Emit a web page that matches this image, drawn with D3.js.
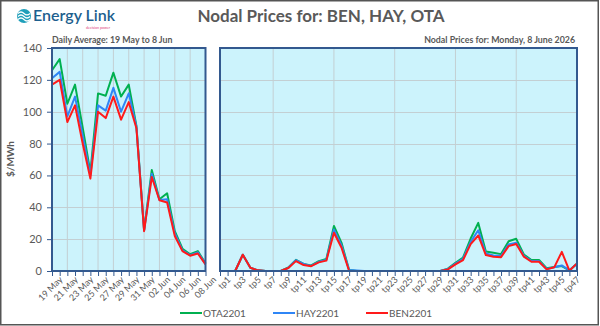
<!DOCTYPE html>
<html>
<head>
<meta charset="utf-8">
<script src="https://cdn.jsdelivr.net/npm/d3@7"></script>
<style>
  body { margin: 0; background: #fff; }
  svg { display: block; font-family: Lato, "Open Sans", sans-serif; }
</style>
</head>
<body>
<div id="chart"></div>
<script>
// daily averages, 19 May to 8 Jun
var days = ["19 May", "20 May", "21 May", "22 May", "23 May", "24 May", "25 May", "26 May",
    "27 May", "28 May", "29 May", "30 May", "31 May", "01 Jun", "02 Jun", "03 Jun",
    "04 Jun", "05 Jun", "06 Jun", "07 Jun", "08 Jun"];
var otaDaily = [126, 133, 105, 117, 90, 62, 111.5, 110, 124.5, 109.5, 117, 91, 25.7, 63.4, 45, 48.8, 25, 14, 10.5, 12.5, 4.8];
var hayDaily = [121, 125, 97, 109.5, 85, 60, 104, 100.7, 115, 100, 111.5, 90.5, 25.5, 61, 44.6, 45, 23.6, 13, 10, 11.7, 4.5];
var benDaily = [117, 120, 93.5, 104, 80, 58, 100, 96, 109.5, 95, 106, 89.6, 25, 59, 44.4, 43, 22, 12.5, 9.6, 11, 4.2];

// trading periods, Monday 8 June
var tps = d3.range(1, 49).map(function (d) { return "tp" + d; });
var otaTp = [0, 0, 0, 10.2, 2, 0.4, 0, 0, 0, 2.2, 7, 4.4, 3.5, 6.2, 7.5, 28.3, 17.7, 0.6, 0, 0,
    0, 0, 0, 0, 0, 0, 0, 0, 0, 0, 1.5, 5.2, 8.5, 20.4, 30.2, 12.3, 11.5, 10.6, 18.7, 20.2,
    10.4, 6.9, 6.9, 1.7, 2.5, 3.1, 0.4, 4.6];
var hayTp = [0, 0, 0, 10.2, 2, 0.4, 0, 0, 0, 2, 6.8, 4.4, 3.2, 5.8, 7, 26, 16, 0.6, 0.3, 0,
    0, 0, 0, 0, 0, 0, 0, 0, 0, 0, 1.2, 4.7, 7.7, 18.3, 25.6, 11, 9.8, 9.4, 16.7, 17.7,
    9.6, 6.2, 6.2, 1.3, 2.4, 3.5, 0.4, 4.6];
var benTp = [0, 0, 0, 10.2, 2, 0.4, 0, 0, 0, 1.9, 6.2, 3.7, 3, 5.4, 6.5, 24, 14.6, 0, 0, 0,
    0, 0, 0, 0, 0, 0, 0, 0, 0, 0, 1, 4.2, 6.9, 16.9, 22.3, 10, 9, 8.7, 15.6, 16.9,
    9, 5.8, 5.8, 1, 2.3, 12, 0.2, 4.8];

var yTicks = [0, 20, 40, 60, 80, 100, 120, 140];

var seriesNames = ["OTA2201", "HAY2201", "BEN2201"];
var seriesColors = ["#00b050", "#2f86f6", "#ff1a1a"];

function init() {
    var w = 600;
    var h = 326;
    var top = 48, bottom = 271;

    var svg = d3.select("#chart")
        .append("svg")
        .attr("width", w)
        .attr("height", h);

    // outer frame
    svg.append("rect")
        .attr("x", 0.75).attr("y", 0.75)
        .attr("width", w - 2.5).attr("height", h - 2)
        .attr("fill", "#fff")
        .attr("stroke", "#555")
        .attr("stroke-width", 1.5);

    var y = d3.scaleLinear().domain([0, 140]).range([bottom, top]);
    var xL = d3.scalePoint().domain(days).range([52, 205.5]);
    var xR = d3.scalePoint().domain(tps).range([220, 577]);

    // panel backgrounds
    [[52, 205.5], [220, 577]].forEach(function (p) {
        svg.append("rect")
            .attr("x", p[0]).attr("y", top)
            .attr("width", p[1] - p[0]).attr("height", bottom - top)
            .attr("fill", "#ccf3fc");
    });

    // horizontal gridlines
    var grid = svg.append("g").attr("stroke", "#c3cfd3").attr("stroke-width", 1);
    [[52, 205.5], [220, 577]].forEach(function (p) {
        grid.selectAll(null)
            .data(yTicks.slice(1, -1))
            .enter()
            .append("line")
            .attr("x1", p[0]).attr("x2", p[1])
            .attr("y1", function (d) { return Math.round(y(d)) + 0.5; })
            .attr("y2", function (d) { return Math.round(y(d)) + 0.5; });
    });

    // vertical gridlines
    grid.selectAll(null)
        .data(days.filter(function (d, i) { return i % 2 === 0 && i > 0 && i < days.length - 1; }))
        .enter()
        .append("line")
        .attr("x1", function (d) { return xL(d); })
        .attr("x2", function (d) { return xL(d); })
        .attr("y1", top).attr("y2", bottom);
    grid.selectAll(null)
        .data(tps.filter(function (d, i) { return i % 8 === 7 && i < tps.length - 1; }))
        .enter()
        .append("line")
        .attr("x1", function (d) { return xR(d); })
        .attr("x2", function (d) { return xR(d); })
        .attr("y1", top).attr("y2", bottom);

    // lines
    var dailyData = [otaDaily, hayDaily, benDaily];
    var tpData = [otaTp, hayTp, benTp];

    var lineL = d3.line()
        .x(function (d, i) { return xL(days[i]); })
        .y(function (d) { return y(d); });
    var lineR = d3.line()
        .x(function (d, i) { return xR(tps[i]); })
        .y(function (d) { return y(d); });

    dailyData.forEach(function (s, k) {
        svg.append("path")
            .attr("d", lineL(s))
            .attr("fill", "none")
            .attr("stroke", seriesColors[k])
            .attr("stroke-width", 2)
            .attr("stroke-linejoin", "round");
    });
    tpData.forEach(function (s, k) {
        svg.append("path")
            .attr("d", lineR(s))
            .attr("fill", "none")
            .attr("stroke", seriesColors[k])
            .attr("stroke-width", 2)
            .attr("stroke-linejoin", "round");
    });

    // panel borders
    [[52, 205.5], [220, 577]].forEach(function (p) {
        svg.append("rect")
            .attr("x", p[0]).attr("y", top)
            .attr("width", p[1] - p[0]).attr("height", bottom - top)
            .attr("fill", "none")
            .attr("stroke", "#33598f")
            .attr("stroke-width", 2);
    });

    // y axis
    var yAxis = svg.append("g")
        .attr("transform", "translate(51,0)")
        .call(d3.axisLeft(y).tickValues(yTicks).tickSize(4).tickPadding(5));
    yAxis.select(".domain").remove();
    yAxis.selectAll("line").attr("stroke", "#33598f");
    yAxis.selectAll("text")
        .attr("fill", "#595959")
        .style("font-size", "11px")
        .style("font-family", "Lato, sans-serif");

    svg.append("text")
        .attr("transform", "translate(14,159) rotate(-90)")
        .attr("text-anchor", "middle")
        .attr("fill", "#595959")
        .style("font-size", "10px")
        .style("font-weight", "bold")
        .text("$/MWh");

    // x axes
    function styleX(g) {
        g.select(".domain").remove();
        g.selectAll("line").attr("stroke", "#33598f");
        g.selectAll("text")
            .attr("fill", "#595959")
            .style("font-size", "9px")
            .style("font-family", "Lato, sans-serif")
            .attr("text-anchor", "end")
            .attr("dx", "0.2em")
            .attr("dy", "0.6em")
            .attr("transform", "rotate(-45)");
    }
    var xAxisL = svg.append("g")
        .attr("transform", "translate(0," + (bottom + 1) + ")")
        .call(d3.axisBottom(xL).tickSize(4).tickPadding(4)
            .tickFormat(function (d, i) { return i % 2 === 0 ? d : ""; }));
    styleX(xAxisL);
    var xAxisR = svg.append("g")
        .attr("transform", "translate(0," + (bottom + 1) + ")")
        .call(d3.axisBottom(xR).tickSize(4).tickPadding(4)
            .tickFormat(function (d, i) { return i % 2 === 0 ? d : ""; }));
    styleX(xAxisR);

    // titles
    svg.append("text")
        .attr("x", 321).attr("y", 22)
        .attr("text-anchor", "middle")
        .attr("fill", "#595959")
        .style("font-size", "17px")
        .style("font-weight", "bold")
        .text("Nodal Prices for: BEN, HAY, OTA");
    svg.append("text")
        .attr("x", 52).attr("y", 43)
        .attr("fill", "#595959")
        .style("font-size", "8.8px")
        .style("font-weight", "bold")
        .text("Daily Average: 19 May to 8 Jun");
    svg.append("text")
        .attr("x", 575).attr("y", 43)
        .attr("text-anchor", "end")
        .attr("fill", "#595959")
        .style("font-size", "8.8px")
        .style("font-weight", "bold")
        .text("Nodal Prices for: Monday, 8 June 2026");

    // logo
    var logo = svg.append("g");
    logo.append("circle")
        .attr("cx", 24).attr("cy", 16).attr("r", 7)
        .attr("fill", "#1f9fba");
    [-2.5, 0.5, 3.5].forEach(function (o) {
        logo.append("path")
            .attr("d", "M18," + (16 + o) + " q3,-3 6,0 t6,0")
            .attr("fill", "none")
            .attr("stroke", "#fff")
            .attr("stroke-width", 1.2);
    });
    logo.append("text")
        .attr("x", 33).attr("y", 21)
        .attr("fill", "#1d5f8e")
        .style("font-size", "16px")
        .style("font-weight", "600")
        .text("Energy Link");
    logo.append("text")
        .attr("x", 98).attr("y", 28.5)
        .attr("text-anchor", "middle")
        .attr("fill", "#e0457b")
        .style("font-size", "3.6px")
        .text("decision power");

    // legend
    var legendX = [180, 273, 366];
    seriesNames.forEach(function (name, k) {
        var g = svg.append("g").attr("transform", "translate(" + legendX[k] + ",313)");
        g.append("line")
            .attr("x1", 0).attr("x2", 22)
            .attr("y1", 0).attr("y2", 0)
            .attr("stroke", seriesColors[k])
            .attr("stroke-width", 2);
        g.append("text")
            .attr("x", 23).attr("y", 3.5)
            .attr("fill", "#595959")
            .style("font-size", "10px")
            .text(name);
    });
}

window.onload = init;
</script>
</body>
</html>
